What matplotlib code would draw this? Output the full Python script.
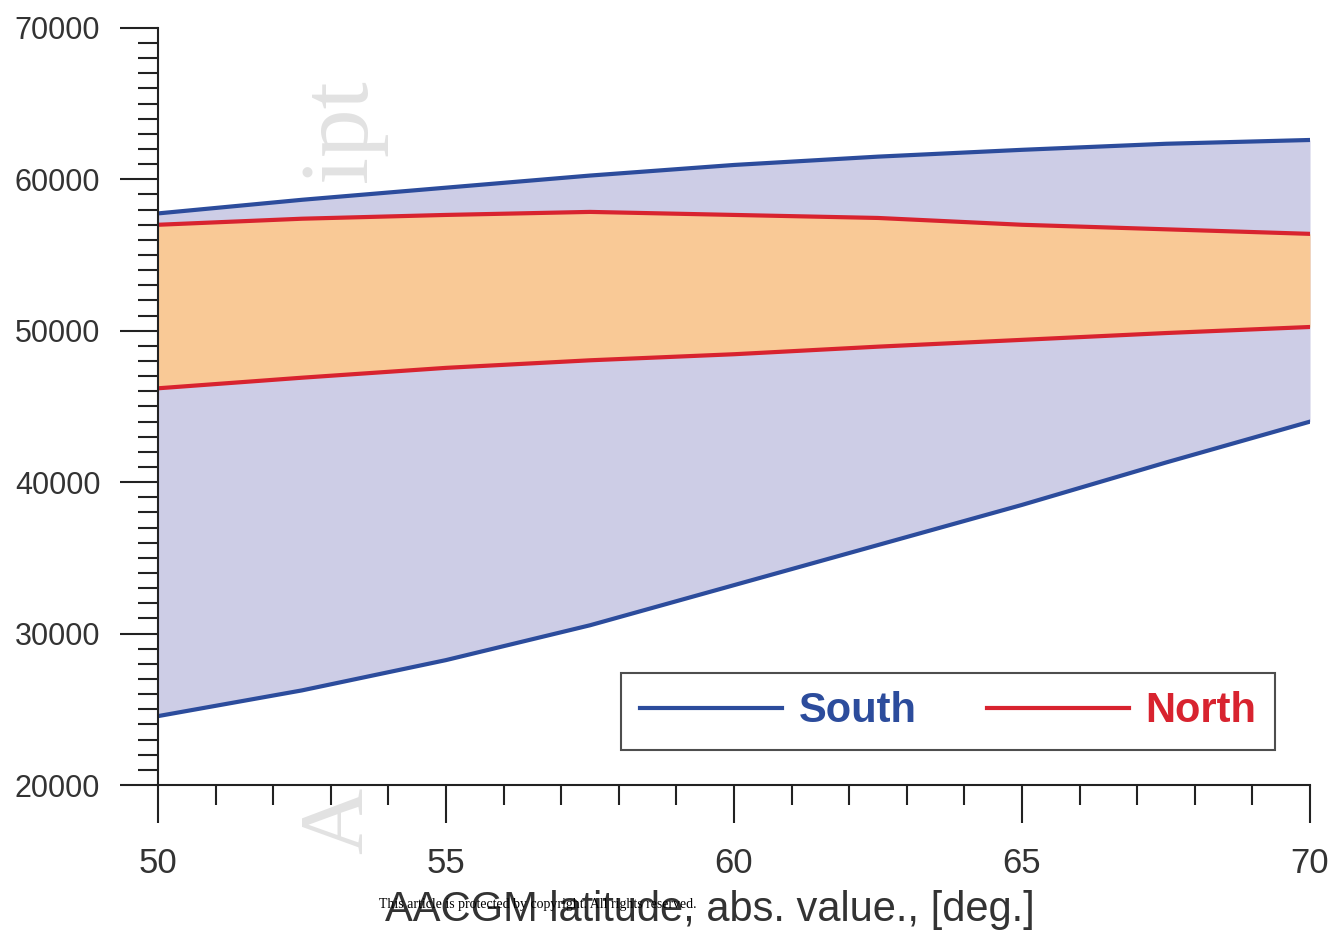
import numpy as np
import matplotlib.pyplot as plt
from matplotlib.ticker import MultipleLocator

# AACGM latitude, deg
lat = [50, 52.5, 55, 57.5, 60, 62.5, 65, 67.5, 70]

south_upper = [57750, 58650, 59450, 60250, 60950, 61500, 61950, 62350, 62600]
south_lower = [24550, 26250, 28250, 30550, 33200, 35850, 38500, 41300, 44000]
north_upper = [57000, 57400, 57650, 57850, 57650, 57450, 57000, 56700, 56400]
north_lower = [46200, 46900, 47550, 48050, 48450, 48950, 49400, 49850, 50250]

blue = "#2c4c9c"
red = "#d8232f"

fig = plt.figure(figsize=(13.32, 9.31), dpi=100)
ax = fig.add_axes([0.1186, 0.1568, 0.8649, 0.8132])

ax.fill_between(lat, south_lower, south_upper, color="#cdcde6", lw=0)
ax.fill_between(lat, north_lower, north_upper, color="#f9c996", lw=0)
ax.plot(lat, south_upper, color=blue, lw=3, label="South")
ax.plot(lat, south_lower, color=blue, lw=3)
ax.plot(lat, north_upper, color=red, lw=3, label="North")
ax.plot(lat, north_lower, color=red, lw=3)

ax.set_xlim(50, 70)
ax.set_ylim(20000, 70000)
ax.xaxis.set_major_locator(MultipleLocator(5))
ax.xaxis.set_minor_locator(MultipleLocator(1))
ax.yaxis.set_major_locator(MultipleLocator(10000))
ax.yaxis.set_minor_locator(MultipleLocator(1000))

for s in ["top", "right"]:
    ax.spines[s].set_visible(False)
for s in ["left", "bottom"]:
    ax.spines[s].set_linewidth(1.5)
    ax.spines[s].set_color("#222222")

# lengths in points (38 px / 20 px at 100 dpi)
ax.tick_params(which="major", direction="out", length=27.5, width=1.5, color="#222222",
               labelcolor="#333333")
ax.tick_params(which="minor", direction="out", length=14.5, width=1.5, color="#222222")
ax.tick_params(axis="y", which="major", pad=14, labelsize=22)
ax.tick_params(axis="x", which="major", pad=17, labelsize=25)

for lbl in ax.get_xticklabels() + ax.get_yticklabels():
    lbl.set_family("Liberation Sans")

ax.set_xlabel("AACGM latitude, abs. value., [deg.]", fontsize=30, color="#333333",
              family="Liberation Sans")
ax.xaxis.set_label_coords(0.479, -0.139)

leg = ax.legend(loc="lower right", bbox_to_anchor=(0.97, 0.046), ncol=2,
                frameon=True, fancybox=False, handlelength=3.4, borderaxespad=0,
                columnspacing=1.7, borderpad=0.45, handletextpad=0.4,
                prop={"family": "Liberation Sans", "weight": "bold", "size": 30})
leg.get_frame().set_edgecolor("#222222")
leg.get_frame().set_linewidth(1.5)
for txt, c in zip(leg.get_texts(), [blue, red]):
    txt.set_color(c)

# watermark remnants
fig.text(0.257, 0.860, "ipt", rotation=90, fontsize=70, color="#e2e2e2",
         family="Liberation Serif", ha="center", va="center", zorder=0)
fig.text(0.255, 0.118, "A", rotation=90, fontsize=66, color="#e2e2e2",
         family="Liberation Serif", ha="center", va="center", zorder=0)
fig.text(0.404, 0.028, "This article is protected by copyright. All rights reserved.",
         fontsize=10, color="black", family="Liberation Serif", ha="center", va="center",
         zorder=5)

fig.savefig("out.png", dpi=100)
